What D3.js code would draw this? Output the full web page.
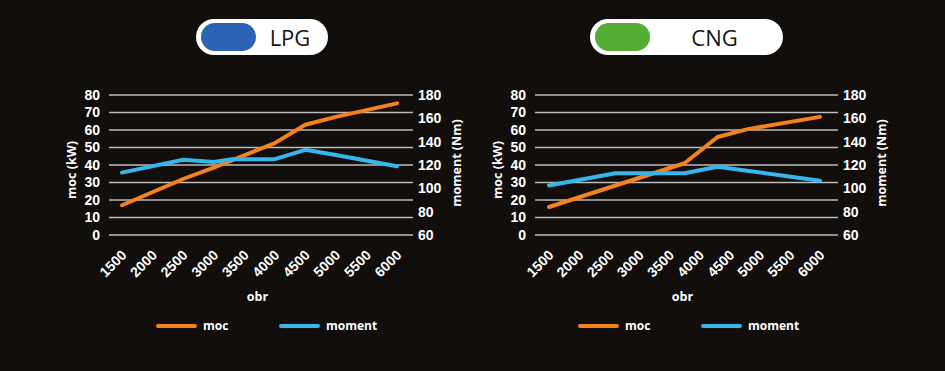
<!DOCTYPE html>
<html>
<head>
<meta charset="utf-8">
<script src="https://cdn.jsdelivr.net/npm/d3@7"></script>
<style>
  body { margin: 0; background: #110e0c; }
  svg { display: block; font-family: "Open Sans", sans-serif; }
  .tick text { fill: #fff; font-weight: 700; font-size: 14px; }
</style>
</head>
<body>
<svg width="945" height="371"></svg>
<script>
// Data
var rpmTicks = [1500, 2000, 2500, 3000, 3500, 4000, 4500, 5000, 5500, 6000];
var powerTicks = [0, 10, 20, 30, 40, 50, 60, 70, 80];
var torqueTicks = [60, 80, 100, 120, 140, 160, 180];

var lpgPowerRpm = [1500, 2500, 3000, 3500, 4000, 4500, 5000, 6000];
var lpgPower = [17, 32, 38.5, 45.5, 52.5, 63, 67.5, 75.2];
var lpgTorqueRpm = [1500, 2500, 3000, 3300, 4000, 4500, 5000, 6000];
var lpgTorque = [113.5, 124.5, 122.5, 125, 125, 133, 128.5, 119];

var cngPowerRpm = [1500, 3750, 4300, 4800, 6000];
var cngPower = [16, 41, 56, 60.5, 67.5];
var cngTorqueRpm = [1500, 2600, 3750, 4300, 6000];
var cngTorque = [102.5, 113, 113, 118.5, 106.5];

var orange = "#f4821f";
var blue = "#37b6ea";

var svg = d3.select("svg");

// Badges on top
function badge(x, w, pillW, color, label) {
    var g = svg.append("g");
    g.append("rect")
        .attr("x", x).attr("y", 19)
        .attr("width", w).attr("height", 36)
        .attr("rx", 18).attr("fill", "#fff");
    g.append("rect")
        .attr("x", x + 5).attr("y", 23)
        .attr("width", pillW).attr("height", 28)
        .attr("rx", 14).attr("fill", color);
    g.append("text")
        .attr("x", x + pillW + 5 + (w - pillW - 5) / 2 - 2)
        .attr("y", 38)
        .attr("dy", "0.35em")
        .attr("text-anchor", "middle")
        .attr("font-size", 22)
        .attr("font-weight", 500)
        .attr("fill", "#141414")
        .text(label);
}
badge(196, 132, 55, "#2e62b4", "LPG");
badge(590, 193, 55, "#56ad33", "CNG");

function drawPanel(cfg) {
    var g = svg.append("g");

    var x = d3.scaleLinear().domain([1500, 6000]).range(cfg.dataX);
    var yPow = d3.scaleLinear().domain([0, 80]).range([235, 95]);
    var yTrq = d3.scaleLinear().domain([60, 180]).range([235, 95]);

    // Grid lines
    g.append("g")
        .selectAll("line")
        .data(powerTicks)
        .enter().append("line")
        .attr("x1", cfg.gridX[0])
        .attr("x2", cfg.gridX[1])
        .attr("y1", d => yPow(d))
        .attr("y2", d => yPow(d))
        .attr("stroke", "#bdbdbd")
        .attr("stroke-width", 1.5);

    // Left axis
    g.append("g")
        .attr("transform", `translate(${cfg.gridX[0]},0)`)
        .call(d3.axisLeft(yPow).tickValues(powerTicks).tickSize(0).tickPadding(9))
        .call(a => a.select(".domain").remove());

    // Right axis
    g.append("g")
        .attr("transform", `translate(${cfg.gridX[1]},0)`)
        .call(d3.axisRight(yTrq).tickValues(torqueTicks).tickSize(0).tickPadding(5))
        .call(a => a.select(".domain").remove());

    // Bottom axis, rotated labels
    g.append("g")
        .attr("transform", "translate(0,235)")
        .call(d3.axisBottom(x).tickValues(rpmTicks).tickSize(0).tickFormat(d3.format("d")))
        .call(a => a.select(".domain").remove())
        .selectAll("text")
        .attr("y", 0).attr("dy", 0)
        .attr("text-anchor", "end")
        .attr("transform", "translate(5,21) rotate(-45)");

    // Axis titles
    g.append("text")
        .attr("transform", `translate(${cfg.gridX[0] - 37},170) rotate(-90)`)
        .attr("text-anchor", "middle")
        .attr("dy", "0.35em")
        .attr("fill", "#fff").attr("font-weight", 700).attr("font-size", 12.5)
        .text("moc (kW)");
    g.append("text")
        .attr("transform", `translate(${cfg.gridX[1] + 44},163) rotate(-90)`)
        .attr("text-anchor", "middle")
        .attr("dy", "0.35em")
        .attr("fill", "#fff").attr("font-weight", 700).attr("font-size", 12.5)
        .text("moment (Nm)");
    g.append("text")
        .attr("x", (cfg.dataX[0] + cfg.dataX[1]) / 2 - 2)
        .attr("y", 297)
        .attr("text-anchor", "middle")
        .attr("dy", "0.35em")
        .attr("fill", "#fff").attr("font-weight", 700).attr("font-size", 12.5)
        .text("obr");

    // Lines
    var powerLine = d3.line().x(d => x(d[0])).y(d => yPow(d[1]));
    var torqueLine = d3.line().x(d => x(d[0])).y(d => yTrq(d[1]));

    g.append("path")
        .datum(d3.zip(cfg.powerRpm, cfg.power))
        .attr("d", powerLine)
        .attr("fill", "none")
        .attr("stroke", orange)
        .attr("stroke-width", 4)
        .attr("stroke-linejoin", "round")
        .attr("stroke-linecap", "round");

    g.append("path")
        .datum(d3.zip(cfg.torqueRpm, cfg.torque))
        .attr("d", torqueLine)
        .attr("fill", "none")
        .attr("stroke", blue)
        .attr("stroke-width", 4)
        .attr("stroke-linejoin", "round")
        .attr("stroke-linecap", "round");

    // Legend
    var items = [{ name: "moc", color: orange }, { name: "moment", color: blue }];
    var lg = g.append("g").attr("transform", `translate(${cfg.legendX},326)`);
    var item = lg.selectAll("g")
        .data(items)
        .enter().append("g")
        .attr("transform", (d, i) => `translate(${i * 123},0)`);
    item.append("line")
        .attr("x1", 0).attr("x2", 37)
        .attr("stroke", d => d.color)
        .attr("stroke-width", 4)
        .attr("stroke-linecap", "round");
    item.append("text")
        .attr("x", 45)
        .attr("dy", "0.35em")
        .attr("fill", "#fff").attr("font-weight", 700).attr("font-size", 12)
        .text(d => d.name);
}

drawPanel({
    gridX: [109, 413], dataX: [122, 397], legendX: 158,
    powerRpm: lpgPowerRpm, power: lpgPower,
    torqueRpm: lpgTorqueRpm, torque: lpgTorque
});
drawPanel({
    gridX: [535, 838], dataX: [549, 820], legendX: 580,
    powerRpm: cngPowerRpm, power: cngPower,
    torqueRpm: cngTorqueRpm, torque: cngTorque
});
</script>
</body>
</html>
